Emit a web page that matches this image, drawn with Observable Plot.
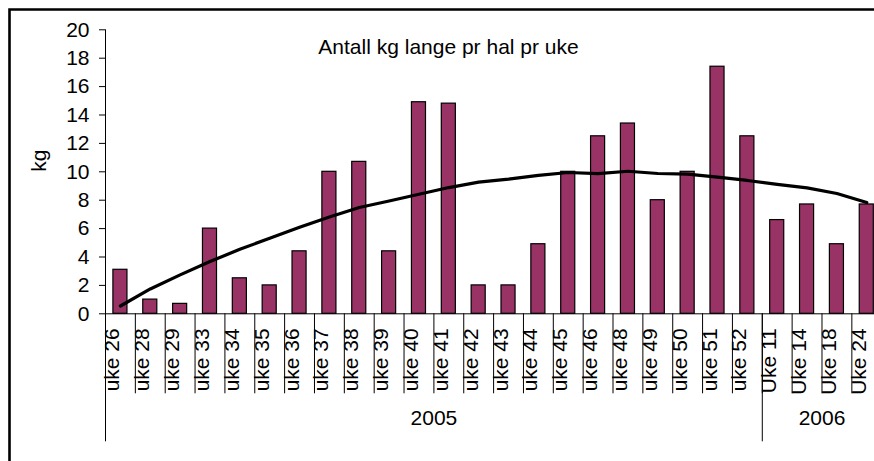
<!DOCTYPE html>
<html>
<head>
<meta charset="utf-8">
<script src="https://cdn.jsdelivr.net/npm/d3@7"></script>
<script src="https://cdn.jsdelivr.net/npm/@observablehq/plot@0.6"></script>
<style>
  html, body { margin: 0; padding: 0; background: #fff; overflow: hidden; width: 874px; height: 461px; }
  #wrap { position: relative; width: 874px; height: 461px; overflow: hidden; background: #fff; }
  #chart { position: absolute; left: 0; top: 0; }
</style>
</head>
<body>
<div id="wrap"><div id="chart"></div></div>
<script>
// ---- data ----
const title = "Antall kg lange pr hal pr uke";
const yLabel = "kg";
const categories = [
  "uke 26", "uke 28", "uke 29", "uke 33", "uke 34", "uke 35", "uke 36", "uke 37",
  "uke 38", "uke 39", "uke 40", "uke 41", "uke 42", "uke 43", "uke 44", "uke 45",
  "uke 46", "uke 48", "uke 49", "uke 50", "uke 51", "uke 52",
  "Uke 11", "Uke 14", "Uke 18", "Uke 24"
];
const values = [
  3.1, 1.0, 0.7, 6.0, 2.5, 2.0, 4.4, 10.0,
  10.7, 4.4, 14.9, 14.8, 2.0, 2.0, 4.9, 10.0,
  12.5, 13.4, 8.0, 10.0, 17.4, 12.5,
  6.6, 7.7, 4.9, 7.7
];
const trend = [
  0.55, 1.75, 2.74, 3.68, 4.54, 5.32, 6.09, 6.82,
  7.49, 7.94, 8.42, 8.89, 9.27, 9.48, 9.75, 9.95,
  9.87, 10.04, 9.88, 9.84, 9.62, 9.39,
  9.11, 8.87, 8.47, 7.84
];
const years = ["2005", "2006"];
const yearSizes = [22, 4];
const yTicks = [0, 2, 4, 6, 8, 10, 12, 14, 16, 18, 20];

// ---- layout ----
const W = 874, H = 461;
const xLeft = 105, xRight = 881.2;
const yTop = 29.3, yBottom = 313.3;
const step = (xRight - xLeft) / categories.length;

const rows = categories.map((c, i) => ({cat: c, kg: values[i], trend: trend[i]}));

const yearStarts = yearSizes.map((s, i) => yearSizes.slice(0, i).reduce((a, b) => a + b, 0));
const yearCenterCats = years.map((y, i) => categories[yearStarts[i] + yearSizes[i] / 2]);
const yearStartCats = yearStarts.map(s => categories[s]);

const chart = Plot.plot({
  width: W,
  height: H,
  marginLeft: xLeft,
  marginRight: 0,
  marginTop: yTop,
  marginBottom: H - yBottom,
  style: {
    fontFamily: "'Liberation Sans', Arial, sans-serif",
    fontSize: "21px",
    color: "#000",
    background: "transparent",
    overflow: "visible"
  },
  x: {type: "band", domain: categories, padding: 0, round: false, range: [xLeft, xRight]},
  y: {domain: [0, 20], range: [yBottom, yTop]},
  marks: [
    Plot.axisX({ticks: categories, tickSize: 80, dx: -step / 2, fill: "none", tickFormat: () => "", label: null, stroke: "#000"}),
    Plot.axisX({ticks: yearStartCats, tickSize: 128, dx: -step / 2, fill: "none", tickFormat: () => "", label: null, stroke: "#000"}),
    Plot.axisY({ticks: yTicks, tickSize: 6, tickPadding: 10, label: null, stroke: "#000"}),
    Plot.ruleX([categories[0]], {dx: -step / 2, y1: 0, y2: 20, stroke: "#000"}),
    Plot.barY(rows, {x: "cat", y: "kg", fill: "#993366", stroke: "#000", strokeWidth: 1.2, insetLeft: 7.9, insetRight: 7.9}),
    Plot.ruleY([0], {stroke: "#000"}),
    Plot.line(rows, {x: "cat", y: "trend", stroke: "#000", strokeWidth: 3.2}),
    Plot.text(categories, {x: d => d, frameAnchor: "bottom", rotate: -90, textAnchor: "end", dy: 14.5, dx: -1, fill: "#000"}),
    Plot.text(years, {x: (d, i) => yearCenterCats[i], dx: -step / 2, frameAnchor: "bottom", dy: 110.7, fill: "#000"}),
    Plot.text([yLabel], {frameAnchor: "left", rotate: -90, dx: -66, fill: "#000"}),
    Plot.text([title], {frameAnchor: "top-left", textAnchor: "middle", dx: 343, dy: 9, fill: "#000"})
  ]
});
// chart-area border (open at the right and bottom, as the picture is cropped there)
d3.select(chart).append("path")
  .attr("d", `M9.5,${H} V9.5 H${W}`)
  .attr("fill", "none")
  .attr("stroke", "#000")
  .attr("stroke-width", 2.6);
document.getElementById("chart").appendChild(chart);
</script>
</body>
</html>
